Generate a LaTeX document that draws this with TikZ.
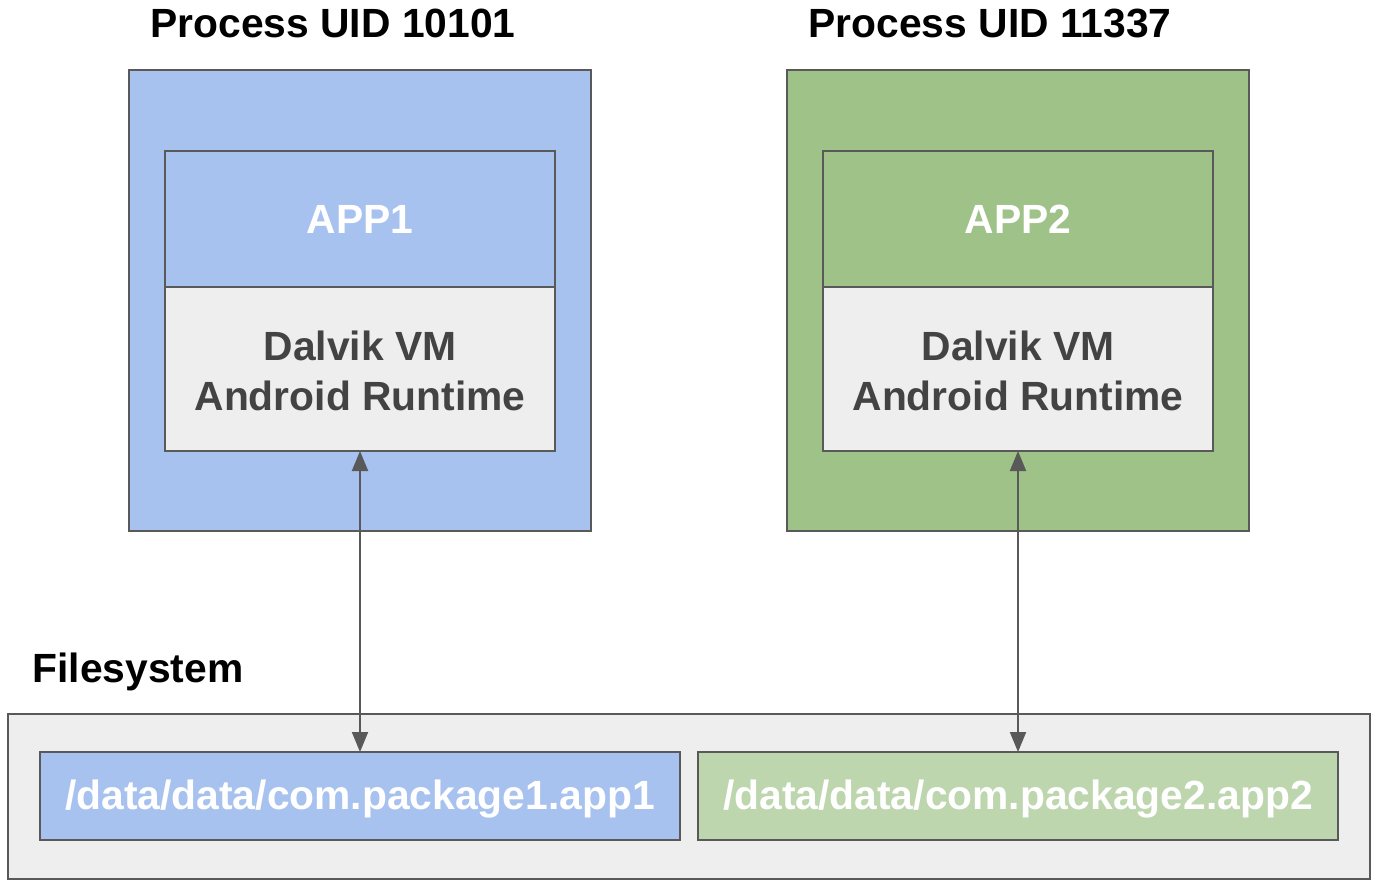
\documentclass[tikz,border=0pt]{standalone}
\usepackage{fontspec}
\setmainfont{Liberation Sans}
\usetikzlibrary{arrows.meta}
\definecolor{bblue}{HTML}{A8C2EF}
\definecolor{ggreen}{HTML}{9EC287}
\definecolor{lgreen}{HTML}{BDD6AE}
\definecolor{lgray}{HTML}{EEEEEE}
\definecolor{edge}{HTML}{595959}
\definecolor{dtext}{HTML}{434343}
\begin{document}
\begin{tikzpicture}[x=1pt,y=-1pt,
  box/.style={draw=edge, line width=2pt, anchor=north west, inner sep=0pt, outer sep=0pt},
  big/.style={font=\fontsize{40.8}{50}\selectfont\bfseries},
  wtext/.style={big, text=white},
  dtxt/.style={big, text=dtext, align=center},
  conn/.style={draw=edge, line width=2pt, {Triangle[length=20pt,width=16pt]}-{Triangle[length=20pt,width=16pt]}}]
\useasboundingbox (0,0) rectangle (1378,884);
% titles
\node[big, anchor=base] (t1) at (333,37) {Process UID 10101};
\node[big, anchor=base] (t2) at (990,37) {Process UID 11337};
% outer boxes
\node[box, fill=bblue, minimum width=462pt, minimum height=461pt] (p1) at (129,70) {};
\node[box, fill=ggreen, minimum width=462pt, minimum height=461pt] (p2) at (787,70) {};
% app boxes
\node[box, fill=bblue, minimum width=390pt, minimum height=136pt] (a1) at (165,151) {};
\node[wtext] (a1t) at (360,219) {APP1};
\node[box, fill=lgray, minimum width=390pt, minimum height=164pt] (d1) at (165,287) {};
\node[dtxt] (d1t) at (360,371) {Dalvik VM\\Android Runtime};
\node[box, fill=ggreen, minimum width=390pt, minimum height=136pt] (a2) at (823,151) {};
\node[wtext] (a2t) at (1018,219) {APP2};
\node[box, fill=lgray, minimum width=390pt, minimum height=164pt] (d2) at (823,287) {};
\node[dtxt] (d2t) at (1018,371) {Dalvik VM\\Android Runtime};
% filesystem
\node[big, anchor=base west] (fs) at (29,682) {Filesystem};
\node[box, fill=lgray, minimum width=1362pt, minimum height=165pt] (fsb) at (8,714) {};
\node[box, fill=bblue, minimum width=640pt, minimum height=88pt] (f1) at (40,752) {};
\node[wtext] (f1t) at (360,799) {/data/data/com.package1.app1};
\node[box, fill=lgreen, minimum width=640pt, minimum height=88pt] (f2) at (698,752) {};
\node[wtext] (f2t) at (1018,799) {/data/data/com.package2.app2};
% connectors
\draw[conn] (d1.south) -- (f1.north -| d1.south);
\draw[conn] (d2.south) -- (f2.north -| d2.south);
\end{tikzpicture}
\end{document}
